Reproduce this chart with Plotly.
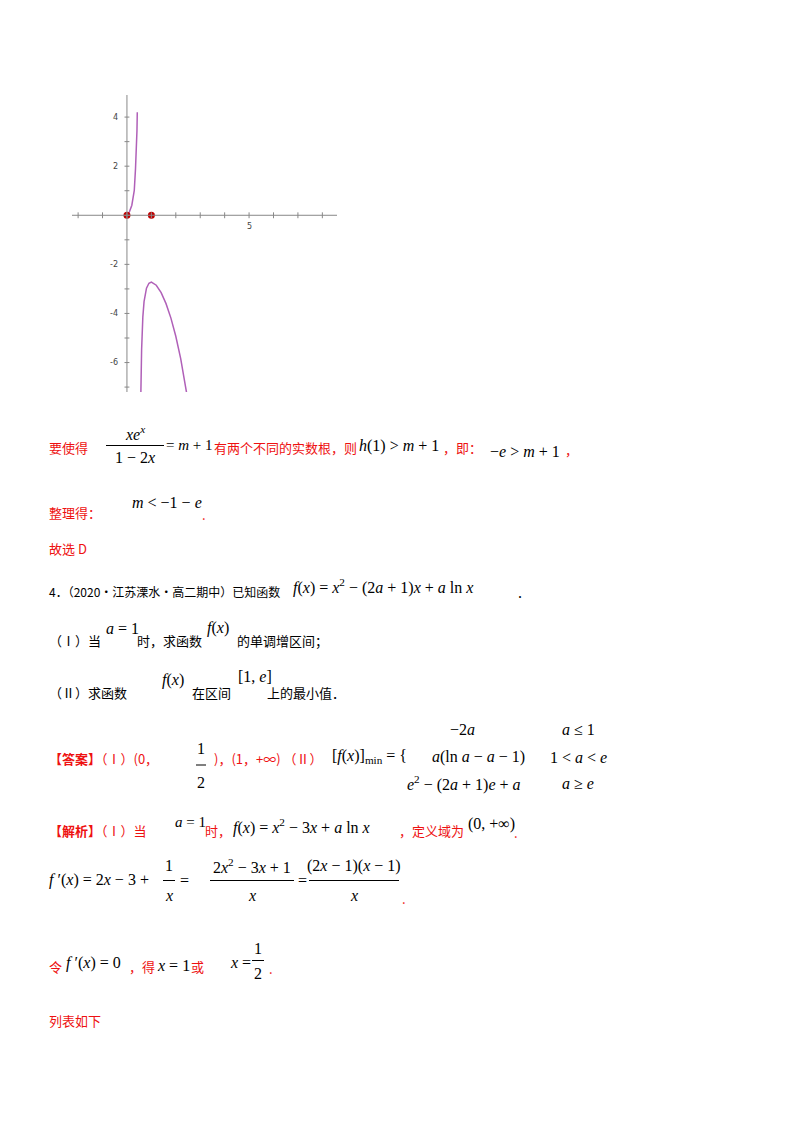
import plotly.graph_objects as go

# left branch of h(x) = x e^x / (1 - 2x)
left_x = [0.0, 0.1, 0.2, 0.3, 0.35, 0.38, 0.4, 0.41, 0.42, 0.423]
left_y = [0.0, 0.14, 0.41, 1.01, 1.89, 2.5, 2.98, 3.45, 4.0, 4.2]
# right branch
right_x = [0.57, 0.58, 0.6, 0.65, 0.7, 0.8, 0.9, 1.0, 1.2, 1.4, 1.6, 1.8, 2.0, 2.2, 2.4, 2.45]
right_y = [-7.2, -6.47, -5.47, -4.15, -3.52, -2.97, -2.77, -2.72, -2.85, -3.15, -3.6, -4.19, -4.93, -5.84, -6.96, -7.28]
pts_x = [0, 1]
pts_y = [0, 0]
xticks = [-2, -1, 0, 1, 2, 3, 4, 5, 6, 7, 8]
yticks = [-7, -6, -5, -4, -3, -2, -1, 0, 1, 2, 3, 4, 5]
ytick_labels = {-6: "-6", -4: "-4", -2: "-2", 2: "2", 4: "4"}

W, H = 800, 1132
OFF = 8  # page body margin
RED = "#ee1111"
SERIF = "Liberation Serif"
CJK = "Noto Sans CJK SC"
PURPLE = "#b060b8"

fig = go.Figure()
fig.add_trace(go.Scatter(x=left_x, y=left_y, mode="lines", line=dict(color=PURPLE, width=1.5)))
fig.add_trace(go.Scatter(x=right_x, y=right_y, mode="lines", line=dict(color=PURPLE, width=1.5)))
fig.add_trace(go.Scatter(x=pts_x, y=pts_y, mode="markers", marker=dict(color="#c00000", size=7)))

shapes = []
# axes with tick marks
shapes.append(dict(type="line", xref="x", yref="y", x0=-2.25, x1=8.6, y0=0, y1=0, line=dict(color="#888", width=1)))
shapes.append(dict(type="line", xref="x", yref="y", x0=0, x1=0, y0=-7.2, y1=4.9, line=dict(color="#888", width=1)))
for t in xticks:
    shapes.append(dict(type="line", xref="x", yref="y", x0=t, x1=t, y0=-0.12, y1=0.12, line=dict(color="#888", width=1)))
for t in yticks:
    shapes.append(dict(type="line", xref="x", yref="y", x0=-0.1, x1=0.1, y0=t, y1=t, line=dict(color="#888", width=1)))

ann = []


def px(x):
    return (x - OFF) / W


def py(y):
    return 1 - (y - OFF) / H


def txt(x, y, s, color="black", size=13, font=CJK, anchor="left"):
    ann.append(dict(x=px(x), y=py(y), xref="paper", yref="paper", text=s, showarrow=False,
                    xanchor=anchor, yanchor="middle", font=dict(color=color, size=size, family=font)))


def m(x, y, s, anchor="left", size=16):
    txt(x, y, s, "black", size, SERIF, anchor)


def frac(xc, yn, yd, num, den, width):
    m(xc, yn, num, "center")
    m(xc, yd, den, "center")
    ym = py((yn + yd) / 2)
    shapes.append(dict(type="line", xref="paper", yref="paper", x0=px(xc - width / 2), x1=px(xc + width / 2),
                       y0=ym, y1=ym, line=dict(color="black", width=1)))


# axis labels
for t, s in ytick_labels.items():
    ann.append(dict(x=-0.3, y=t, xref="x", yref="y", text=s, showarrow=False, xanchor="right",
                    font=dict(size=8, color="#444", family="DejaVu Sans")))
ann.append(dict(x=5, y=-0.45, xref="x", yref="y", text="5", showarrow=False,
                font=dict(size=8, color="#444", family="DejaVu Sans")))

# line 1
txt(47, 447, "要使得", RED)
frac(135, 433, 458, "<i>xe</i><sup><i>x</i></sup>", "1 − 2<i>x</i>", 58)
m(164, 445, "= <i>m</i> + 1", size=15)
txt(212, 447, "有两个不同的实数根，则", RED)
m(357, 446, "<i>h</i>(1) > <i>m</i> + 1")
txt(441, 447, "，即：", RED)
m(488, 451, "−<i>e</i> > <i>m</i> + 1")
txt(563, 449, "，", RED)
# line 2
txt(47, 512, "整理得：", RED)
m(130, 502, "<i>m</i> < −1 − <i>e</i>")
txt(200, 514, ".", RED)
txt(47, 548, "故选 D", RED)
# problem 4
txt(47, 591, "4．（2020·江苏溧水·高二期中）已知函数", size=12)
m(291, 586, "<i>f</i>(<i>x</i>) = <i>x</i><sup>2</sup> − (2<i>a</i> + 1)<i>x</i> + <i>a</i> ln <i>x</i>")
m(516, 592, ".")
txt(47, 640, "（Ⅰ）当")
m(104, 628, "<i>a</i> = 1")
txt(135, 640, "时，求函数")
m(205, 628, "<i>f</i>(<i>x</i>)")
txt(235, 640, "的单调增区间；")
txt(47, 692, "（Ⅱ）求函数")
m(160, 680, "<i>f</i>(<i>x</i>)")
txt(190, 692, "在区间")
m(236, 676, "[1, <i>e</i>]")
txt(265, 692, "上的最小值．")
# answer
txt(47, 758, "<b>【答案】</b>（Ⅰ）(0，", RED)
frac(201, 748, 782, "1", "2", 10)
txt(212, 758, ")，(1，+∞) （Ⅱ）", RED)
m(330, 756, "[<i>f</i>(<i>x</i>)]<sub>min</sub> = {")
m(462, 729, "−2<i>a</i>", "center")
m(478, 757, "<i>a</i>(ln <i>a</i> − <i>a</i> − 1)", "center")
m(464, 783, "<i>e</i><sup>2</sup> − (2<i>a</i> + 1)<i>e</i> + <i>a</i>", "center")
m(578, 729, "<i>a</i> ≤ 1", "center")
m(578, 757, "1 < <i>a</i> < <i>e</i>", "center")
m(578, 783, "<i>a</i> ≥ <i>e</i>", "center")
# analysis
txt(47, 830, "<b>【解析】</b>（Ⅰ）当", RED)
m(173, 822, "<i>a</i> = 1", size=15)
txt(203, 830, "时，", RED)
m(231, 826, "<i>f</i>(<i>x</i>) = <i>x</i><sup>2</sup> − 3<i>x</i> + <i>a</i> ln <i>x</i>")
txt(397, 830, "，定义域为", RED)
m(466, 824, "(0, +∞)")
txt(512, 832, ".", RED)
m(47, 880, "<i>f</i> ′(<i>x</i>) = 2<i>x</i> − 3 +")
frac(169, 866, 895, "1", "<i>x</i>", 12)
m(178, 880, "=")
frac(252, 866, 895, "2<i>x</i><sup>2</sup> − 3<i>x</i> + 1", "<i>x</i>", 84)
m(296, 880, "=")
frac(354, 866, 895, "(2<i>x</i> − 1)(<i>x</i> − 1)", "<i>x</i>", 90)
txt(400, 898, ".", RED)
txt(47, 966, "令", RED)
m(64, 963, "<i>f</i> ′(<i>x</i>) = 0")
txt(127, 966, "，得", RED)
m(155, 965, "<i>x</i> = 1")
txt(189, 966, "或", RED)
m(228, 962, "<i>x</i> =")
frac(258, 948, 973, "1", "2", 12)
txt(267, 968, ".", RED)
txt(47, 1020, "列表如下", RED)

fig.update_layout(
    width=W, height=H, margin=dict(l=0, r=0, t=0, b=0),
    paper_bgcolor="white", plot_bgcolor="white", showlegend=False,
    xaxis=dict(domain=[px(72), px(337)], range=[-2.25, 8.6], visible=False),
    yaxis=dict(domain=[py(392), py(95)], range=[-7.2, 4.9], visible=False),
    shapes=shapes, annotations=ann,
)
fig.write_html("out.html")
